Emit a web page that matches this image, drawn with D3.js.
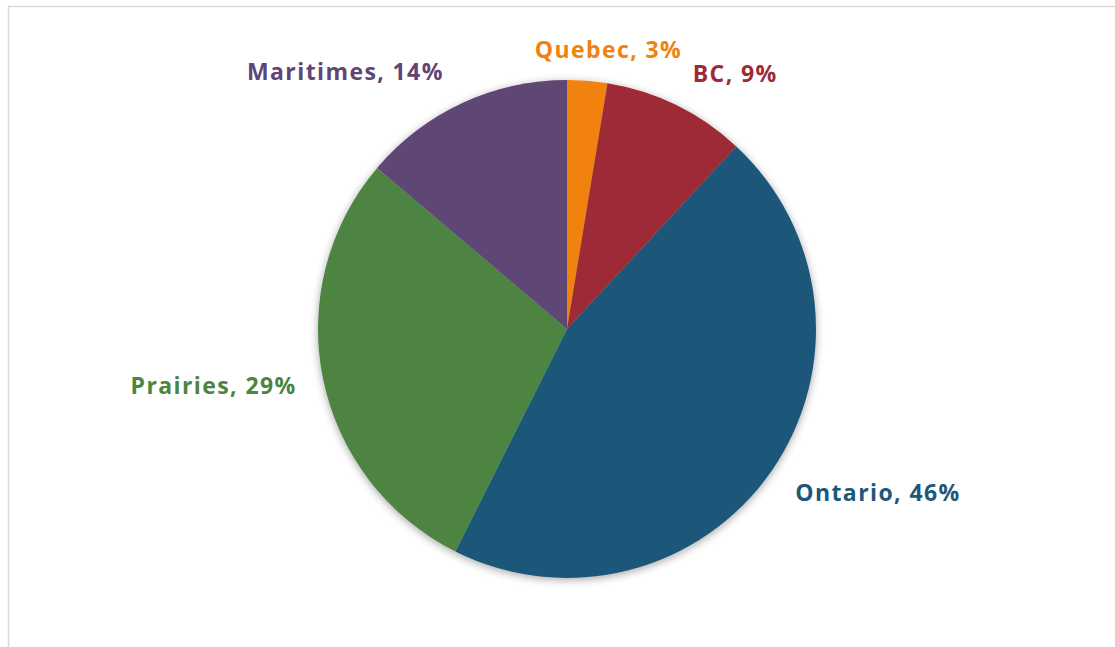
<!DOCTYPE html>
<html>
<head>
<meta charset="utf-8">
<script src="https://cdn.jsdelivr.net/npm/d3@7"></script>
<style>
  html, body { margin: 0; padding: 0; background: #fff; }
  svg { display: block; }
  .label { font-family: "Open Sans", Lato, sans-serif; font-weight: bold; font-size: 23px; letter-spacing: 1.4px; }
</style>
</head>
<body>
<svg id="chart"></svg>
<script>
// data
const regions = ["Quebec", "BC", "Ontario", "Prairies", "Maritimes"];
const shares = [2.6, 9.3, 45.5, 28.8, 13.8];
const colors = ["#F0820F", "#9E2A38", "#1E5779", "#4D8443", "#5F4675"];
// little nudges for the labels (excel places them by hand-ish)
const labelNudge = [[-55, 1], [3, -3], [-1, 7], [3, 3], [-6, -2]];

const width = 1115;
const height = 647;
const cx = 567, cy = 329, radius = 249;

const svg = d3.select('svg#chart').attr('width', width).attr('height', height);

// chart area border
svg.append('rect')
  .attr('x', 8.5).attr('y', 6.5)
  .attr('width', width + 10).attr('height', height + 10)
  .attr('fill', 'none').attr('stroke', '#D9D9D9').attr('stroke-width', 1.5);

const defs = svg.append('defs');
const shadow = defs.append('filter').attr('id', 'shadow')
  .attr('x', '-10%').attr('y', '-10%').attr('width', '120%').attr('height', '120%');
shadow.append('feGaussianBlur').attr('in', 'SourceAlpha').attr('stdDeviation', 4).attr('result', 'blur');
shadow.append('feOffset').attr('dx', 0).attr('dy', 2).attr('result', 'off');
shadow.append('feComponentTransfer').append('feFuncA').attr('type', 'linear').attr('slope', 0.35);
const merge = shadow.append('feMerge');
merge.append('feMergeNode');
merge.append('feMergeNode').attr('in', 'SourceGraphic');

const data = regions.map((r, i) => ({ region: r, value: shares[i], color: colors[i], nudge: labelNudge[i] }));

const pie = d3.pie().value(d => d.value).sort(null);
const arc = d3.arc().innerRadius(0).outerRadius(radius);
const labelArc = d3.arc().innerRadius(radius + 30).outerRadius(radius + 30);

const g = svg.append('g').attr('transform', 'translate(' + cx + ',' + cy + ')');

g.append('g').attr('filter', 'url(#shadow)')
  .selectAll('path').data(pie(data)).enter().append('path')
  .attr('d', arc)
  .attr('fill', d => d.data.color);

g.selectAll('text').data(pie(data)).enter().append('text')
  .attr('class', 'label')
  .attr('fill', d => d.data.color)
  .attr('text-anchor', d => {
    const mid = (d.startAngle + d.endAngle) / 2;
    return mid < Math.PI ? 'start' : 'end';
  })
  .attr('dominant-baseline', 'middle')
  .attr('x', d => labelArc.centroid(d)[0] + d.data.nudge[0])
  .attr('y', d => labelArc.centroid(d)[1] + d.data.nudge[1])
  .text(d => d.data.region + ', ' + Math.round(d.data.value) + '%');
</script>
</body>
</html>
